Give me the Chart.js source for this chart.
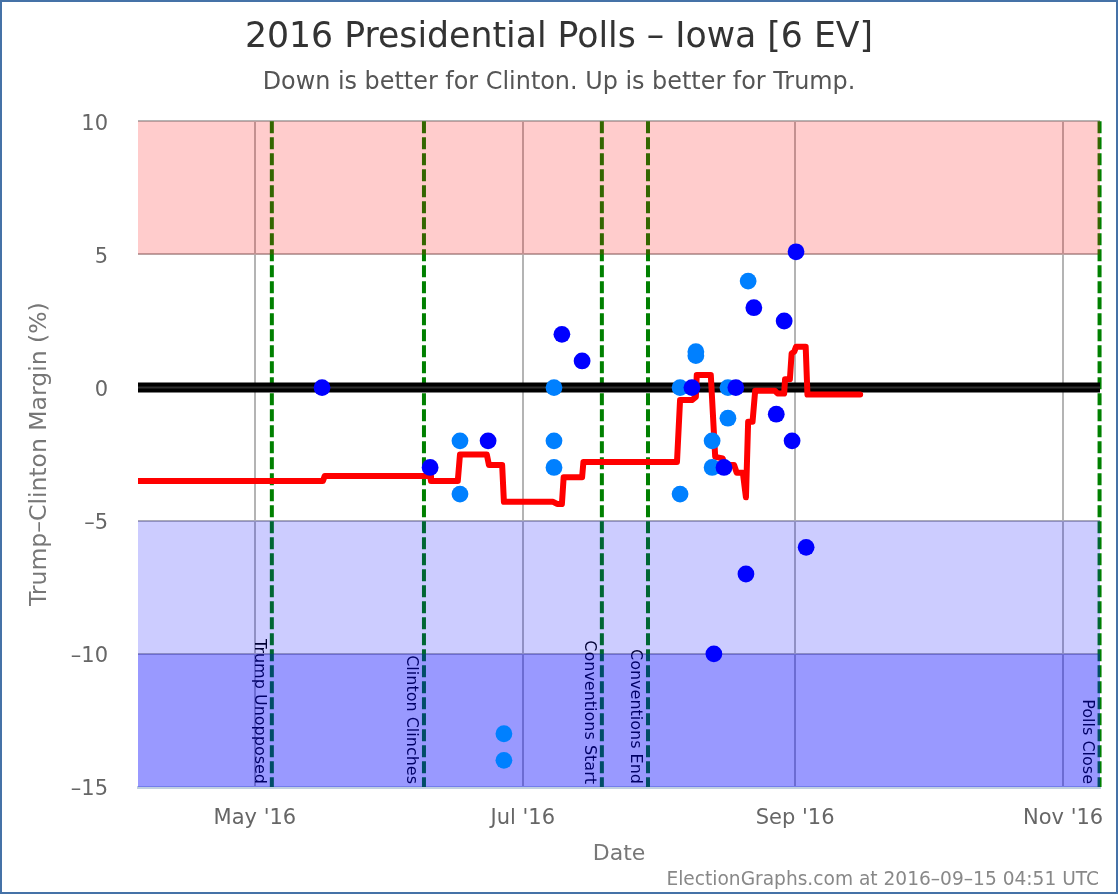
<!DOCTYPE html>
<html>
<head>
<meta charset="utf-8">
<title>Iowa polls</title>
<script src="https://cdn.jsdelivr.net/npm/chart.js@4"></script>
<style>
  html, body { margin: 0; padding: 0; background: #fff; }
  #marco { width: 1118px; height: 894px; box-sizing: border-box; border: 2px solid #4572a7; }
  canvas { display: block; }
</style>
</head>
<body>
<div id="marco"><canvas id="grafica_iowa" width="1114" height="890"></canvas></div>
<script>
/*-----Datos (x = days from 1 May 2016)-----*/

const month_days = [0, 61, 123, 184];
const month_labels = ["May '16", "Jul '16", "Sep '16", "Nov '16"];

const avg_days = [-26.6, 15.5, 15.9, 39.9, 40.1, 46.2, 46.7, 52.8, 53.3, 56.3, 56.7, 67.9, 68.8, 69.9, 70.3, 74.5, 74.8,
                  96.1, 96.8, 99.5, 100.4, 100.6, 103.8, 104.8, 106.5, 107, 109.1, 109.7, 111.1, 111.8, 112.3, 113.3,
                  113.9, 118.4, 119, 120.5, 120.7, 121.8, 122.2, 122.8, 123.2, 125.4, 125.8, 137.8];
const avg_margin = [-3.51, -3.51, -3.32, -3.32, -3.51, -3.51, -2.51, -2.51, -2.91, -2.91, -4.29, -4.29, -4.37, -4.37, -3.37, -3.37, -2.79,
                    -2.79, -0.47, -0.47, -0.35, 0.47, 0.47, -2.6, -2.66, -2.91, -2.91, -3.2, -3.2, -4.12, -1.28, -1.28,
                    -0.12, -0.12, -0.22, -0.22, 0.31, 0.31, 1.28, 1.35, 1.53, 1.53, -0.26, -0.26];

const light_days = [46.7, 46.7, 56.7, 56.7, 68.1, 68.1, 68.1, 96.8, 96.8, 100.4, 100.4, 104.1, 104.1, 107.7, 107.7, 112.3];
const light_margin = [-2, -4, -13, -14, 0, -2, -3, 0, -4, 1.35, 1.2, -2, -3, 0, -1.15, 4];

const dark_days = [15.3, 39.9, 53.1, 69.9, 74.5, 99.5, 104.5, 106.8, 109.5, 111.8, 113.6, 118.7, 120.5, 122.3, 123.2, 125.5];
const dark_margin = [0, -3, -2, 2, 1, 0, -10, -3, 0, -7, 3, -1, 2.5, -2, 5.1, -6];

const event_days = [3.87, 38.5, 79, 89.5, 192.3];
const event_names = ['Trump Unopposed', 'Clinton Clinches', 'Conventions Start', 'Conventions End', 'Polls Close'];

const band_from = [5, -5, -10];
const band_to = [10, -10, -15];
const band_colors = ['rgba(255,0,0,0.2)', 'rgba(0,0,255,0.2)', 'rgba(0,0,255,0.4)'];

const x_min = -26.6;
const x_max = 192.4;
const zero_days = [x_min, x_max];
const zero_margin = [0, 0];

function toPoints(xs, ys) {
  return xs.map((x, i) => ({ x: x, y: ys[i] }));
}

/*-----Eventos y bandas (por debajo de los datos)-----*/

const capas = {
  id: 'capas',
  beforeDraw(chart) {
    // las etiquetas del eje y van un poco por debajo de su línea
    chart.scales.y.getLabelItems().forEach(item => { item.textOffset += 3; });
  },
  beforeDatasetsDraw(chart) {
    const ctx = chart.ctx, area = chart.chartArea;
    const sx = chart.scales.x, sy = chart.scales.y;
    ctx.save();
    event_days.forEach((d, i) => {
      const px = sx.getPixelForValue(d);
      ctx.strokeStyle = '#008000';
      ctx.lineWidth = 4;
      ctx.setLineDash([12, 4]);
      ctx.beginPath();
      ctx.moveTo(px, area.top);
      ctx.lineTo(px, area.bottom);
      ctx.stroke();
      ctx.save();
      ctx.translate(px - 17, area.bottom - 3);
      ctx.rotate(Math.PI / 2);
      ctx.fillStyle = '#000';
      ctx.font = '16px "DejaVu Sans"';
      ctx.textAlign = 'right';
      ctx.textBaseline = 'alphabetic';
      ctx.fillText(event_names[i], 0, 0);
      ctx.restore();
    });
    band_from.forEach((v, i) => {
      const y0 = sy.getPixelForValue(v), y1 = sy.getPixelForValue(band_to[i]);
      ctx.fillStyle = band_colors[i];
      ctx.fillRect(area.left, Math.min(y0, y1), area.right - area.left, Math.abs(y1 - y0));
    });
    ctx.restore();
  },
  afterDraw(chart) {
    const ctx = chart.ctx;
    ctx.save();
    ctx.fillStyle = '#888';
    ctx.font = '18.6px "DejaVu Sans"';
    ctx.textAlign = 'right';
    ctx.textBaseline = 'middle';
    ctx.fillText('ElectionGraphs.com at 2016–09–15 04:51 UTC', 1097, 878);
    ctx.restore();
  }
};

/*-----Gráfica-----*/

const grafica_iowa = document.getElementById('grafica_iowa');

new Chart(grafica_iowa, {
  type: 'scatter',
  plugins: [capas],
  data: {
    datasets: [{
      label: 'Polls',
      data: toPoints(dark_days, dark_margin),
      backgroundColor: '#0000ff',
      borderWidth: 0,
      pointRadius: 8.4
    },
    {
      label: 'Polls (partial)',
      data: toPoints(light_days, light_margin),
      backgroundColor: '#0080ff',
      borderWidth: 0,
      pointRadius: 8.4
    },
    {
      label: 'Average',
      type: 'line',
      data: toPoints(avg_days, avg_margin),
      borderColor: '#ff0000',
      borderWidth: 6,
      borderCapStyle: 'round',
      borderJoinStyle: 'round',
      pointRadius: 0,
      tension: 0
    },
    {
      label: 'Zero grid',
      type: 'line',
      data: toPoints(zero_days, zero_margin),
      borderColor: '#303030',
      borderWidth: 2,
      pointRadius: 0
    },
    {
      label: 'Zero',
      type: 'line',
      data: toPoints(zero_days, zero_margin),
      borderColor: '#000000',
      borderWidth: 10,
      pointRadius: 0
    }]
  },
  options: {
    responsive: false,
    animation: false,
    devicePixelRatio: 1,
    layout: { padding: { left: 16, right: 16, top: 0, bottom: 21 } },
    scales: {
      x: {
        type: 'linear',
        min: x_min,
        max: x_max,
        afterBuildTicks(scale) {
          scale.ticks = month_days.map(d => ({ value: d }));
        },
        afterFit(scale) {
          scale.height = 84;
          scale.paddingLeft = 0;
          scale.paddingRight = 0;
        },
        grid: { color: '#b4b4b4', lineWidth: 2, drawTicks: false },
        border: { color: '#c0d0e0', width: 3 },
        ticks: {
          autoSkip: false,
          maxRotation: 0,
          padding: 19,
          color: '#666',
          font: { family: 'DejaVu Sans', size: 21 },
          callback: value => month_labels[month_days.indexOf(value)]
        },
        title: { display: true, text: 'Date', color: '#777', font: { family: 'DejaVu Sans', size: 22 }, padding: { top: 0, bottom: 4 } }
      },
      y: {
        min: -15,
        max: 10,
        afterFit(scale) { scale.width = 120; },
        grid: { color: '#b4b4b4', lineWidth: 2, drawTicks: false },
        border: { display: false },
        ticks: {
          stepSize: 5,
          padding: 30,
          color: '#666',
          font: { family: 'DejaVu Sans', size: 21 },
          callback: value => String(value).replace('-', '–')
        },
        title: { display: true, text: 'Trump–Clinton Margin (%)', color: '#777', font: { family: 'DejaVu Sans', size: 23.5 }, padding: { top: 8, bottom: 4 } }
      }
    },
    plugins: {
      legend: { display: false },
      tooltip: { enabled: false },
      title: {
        display: true,
        text: '2016 Presidential Polls – Iowa [6 EV]',
        color: '#333',
        font: { family: 'DejaVu Sans', size: 34.7, weight: 'normal' },
        padding: { top: 15, bottom: 9 }
      },
      subtitle: {
        display: true,
        text: 'Down is better for Clinton. Up is better for Trump.',
        color: '#555',
        font: { family: 'DejaVu Sans', size: 23.9, weight: 'normal' },
        padding: { top: 1, bottom: 24 }
      }
    }
  }
});
</script>
</body>
</html>
